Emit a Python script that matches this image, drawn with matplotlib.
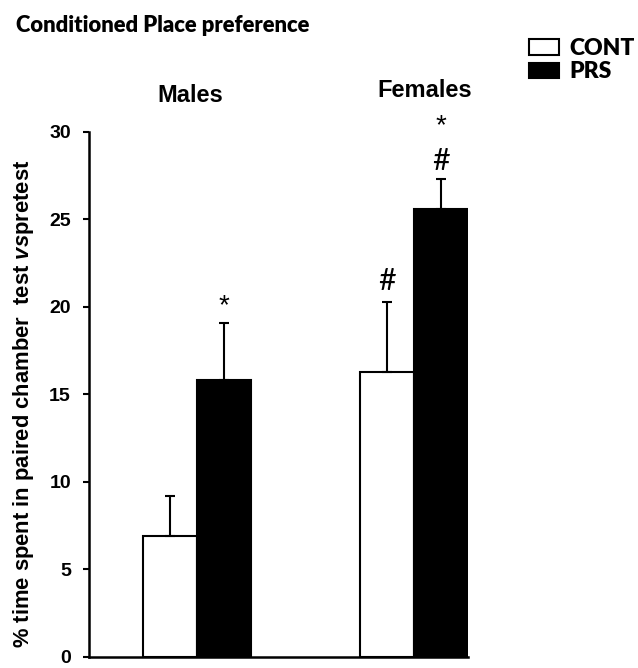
import numpy as np
import matplotlib.pyplot as plt

plt.rcParams['mathtext.fontset'] = 'custom'
plt.rcParams['mathtext.it'] = 'Liberation Sans:italic:bold'
plt.rcParams['mathtext.rm'] = 'Liberation Sans:bold'

# Datos: % tiempo en la cámara emparejada (test vs pretest)
groups = ['Males', 'Females']
conditions = ['CONT', 'PRS']
cont_mean = [6.9, 16.3]
cont_sem = [2.3, 4.0]
prs_mean = [15.8, 25.6]
prs_sem = [3.3, 1.7]
# marcas de significación sobre cada barra
cont_marks = ['', '#']
prs_marks = ['*', '#*']

fig = plt.figure(figsize=(6.38, 6.68), dpi=100)
ax = fig.add_axes([0.1395, 0.0165, 0.594, 0.786])

centers = np.array([2.0, 6.0])
w = 1.0
err_kw = dict(ecolor='black', elinewidth=1.5, capsize=3.9, capthick=1.5)
ax.bar(centers - w / 2, cont_mean, w, color='white', edgecolor='black', linewidth=1.5,
       yerr=[np.zeros(2), cont_sem], error_kw=err_kw, label=conditions[0], zorder=2)
ax.bar(centers + w / 2, prs_mean, w, color='black', edgecolor='black', linewidth=1.5,
       yerr=[np.zeros(2), prs_sem], error_kw=err_kw, label=conditions[1], zorder=2)

# anotaciones (# y *)
hash_kw = dict(ha='center', va='center', fontsize=22, family='Lato')
star_kw = dict(ha='center', va='center', fontsize=20, family='Liberation Sans')
for i in range(2):
    top = cont_mean[i] + cont_sem[i]
    if cont_marks[i]:
        ax.text(centers[i] - w / 2, top + 1.2, '#', **hash_kw)
    top = prs_mean[i] + prs_sem[i]
    if prs_marks[i] == '*':
        ax.text(centers[i] + w / 2, top + 0.95, '*', **star_kw)
    elif prs_marks[i] == '#*':
        ax.text(centers[i] + w / 2, top + 1.05, '#', **hash_kw)
        ax.text(centers[i] + w / 2, top + 3.05, '*', **star_kw)

ax.set_xlim(0, 7)
ax.set_ylim(0, 30)
ax.set_yticks(np.arange(0, 31, 5))
ax.set_xticks([])
for lab in ax.get_yticklabels():
    lab.set_fontweight('bold')
    lab.set_family('Liberation Sans')
    lab.set_fontsize(14)
ax.tick_params(axis='y', direction='out', length=4, width=1.5, pad=9)
ax.spines['top'].set_visible(False)
ax.spines['right'].set_visible(False)
ax.spines['left'].set_linewidth(1.8)
ax.spines['bottom'].set_linewidth(1.8)

ax.set_ylabel('% time spent in paired chamber  test $\\mathit{vs}$pretest',
              fontsize=15.8, fontweight='bold', family='Liberation Sans')
ax.yaxis.set_label_coords(-0.139, 0.483)

# títulos de grupo
fig.text(190.5 / 638, 1 - 101.7 / 668, groups[0], ha='center', va='baseline',
         fontsize=17, fontweight='bold', family='Liberation Sans')
fig.text(424.5 / 638, 1 - 97.3 / 668, groups[1], ha='center', va='baseline',
         fontsize=17, fontweight='bold', family='Liberation Sans')

fig.text(16 / 638, 1 - 31.7 / 668, 'Conditioned Place preference', ha='left', va='baseline',
         fontsize=15.8, fontweight='heavy', family='Lato')

# leyenda
ax.legend(loc='upper left', bbox_to_anchor=(529 / 638, 1 - 38 / 668),
          bbox_transform=fig.transFigure, frameon=False,
          prop={'family': 'Lato', 'weight': 'heavy', 'size': 16.5},
          handlelength=1.31, handleheight=0.66, handletextpad=0.45, labelspacing=0.1,
          borderpad=0, borderaxespad=0)

fig.savefig('out.png', dpi=100)
